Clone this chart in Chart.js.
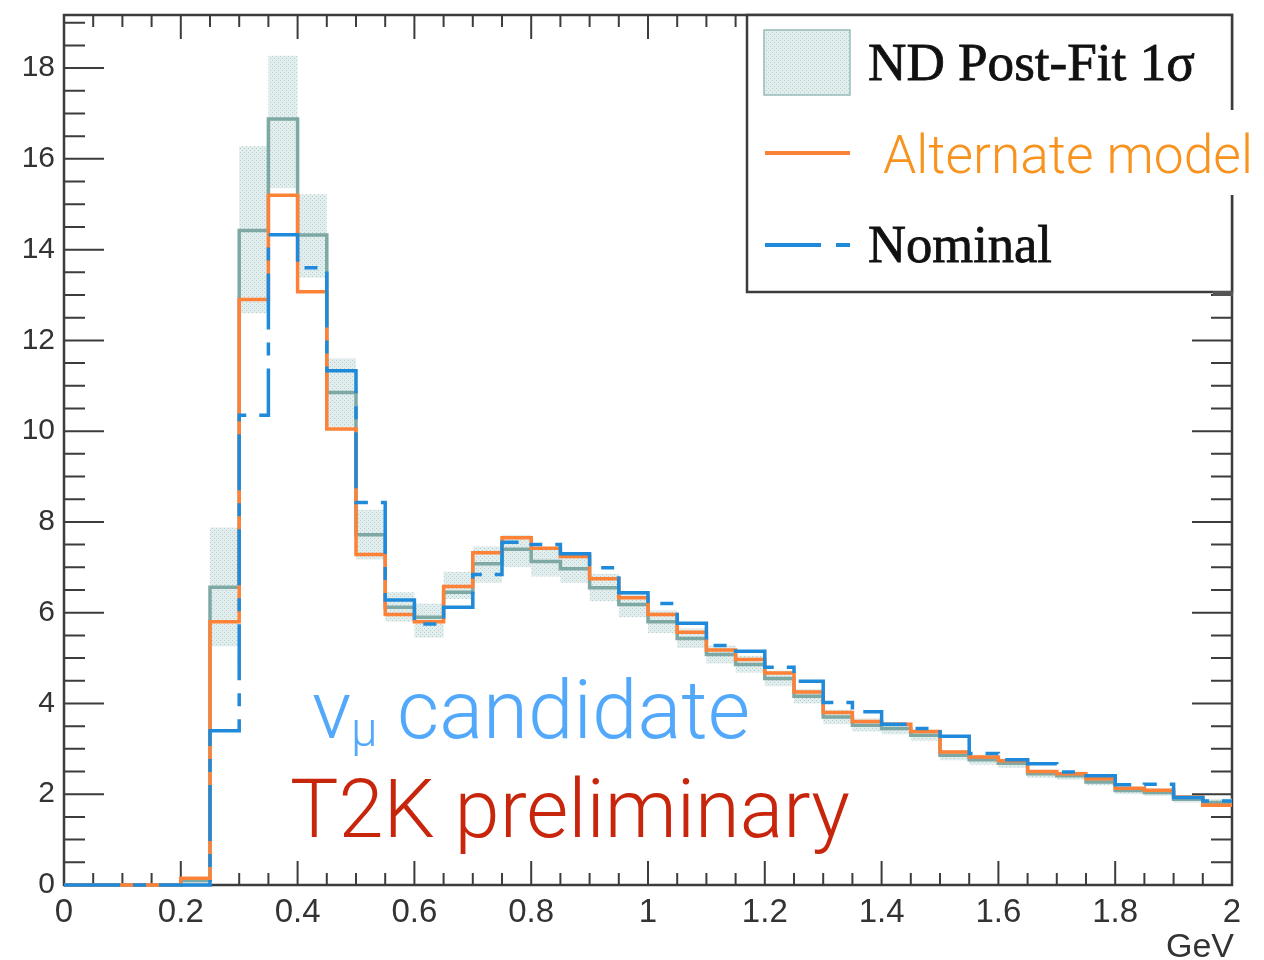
<!DOCTYPE html>
<html>
<head>
<meta charset="utf-8">
<script src="https://cdn.jsdelivr.net/npm/chart.js@4.4.1/dist/chart.umd.min.js"></script>
<style>
  html, body { margin: 0; padding: 0; background: #fff; }
  canvas { display: block; }
</style>
</head>
<body>
<canvas id="chart" width="1264" height="960"></canvas>
<script>
// low edge of each 0.05 GeV bin
const binEdges = [
  0.00, 0.05, 0.10, 0.15, 0.20, 0.25, 0.30, 0.35, 0.40, 0.45,
  0.50, 0.55, 0.60, 0.65, 0.70, 0.75, 0.80, 0.85, 0.90, 0.95,
  1.00, 1.05, 1.10, 1.15, 1.20, 1.25, 1.30, 1.35, 1.40, 1.45,
  1.50, 1.55, 1.60, 1.65, 1.70, 1.75, 1.80, 1.85, 1.90, 1.95
];
const binWidth = 0.05;

const alternateModel = [
  0, 0, 0, 0, 0.15, 5.80, 12.90, 15.20, 13.07, 10.05,
  7.28, 5.96, 5.80, 6.58, 7.32, 7.65, 7.42, 7.24, 6.75, 6.33,
  5.96, 5.57, 5.18, 4.97, 4.67, 4.25, 3.80, 3.60, 3.54, 3.38,
  2.93, 2.82, 2.74, 2.50, 2.45, 2.34, 2.13, 2.09, 1.94, 1.76
];
const nominal = [
  0, 0, 0, 0, 0, 3.40, 10.35, 14.33, 13.60, 11.33,
  8.43, 6.28, 5.75, 6.12, 6.84, 7.55, 7.50, 7.30, 6.99, 6.44,
  6.20, 5.77, 5.28, 5.15, 4.80, 4.49, 4.02, 3.82, 3.54, 3.45,
  3.28, 2.90, 2.76, 2.67, 2.49, 2.41, 2.21, 2.22, 1.93, 1.85
];
const postFit = [
  0, 0, 0, 0, 0.10, 6.56, 14.42, 16.88, 14.32, 10.85,
  7.72, 6.12, 5.90, 6.45, 7.08, 7.40, 7.13, 6.97, 6.55, 6.18,
  5.80, 5.43, 5.08, 4.86, 4.55, 4.16, 3.70, 3.52, 3.45, 3.30,
  2.86, 2.76, 2.68, 2.45, 2.41, 2.27, 2.08, 2.04, 1.89, 1.82
];
const postFitHigh = [
  0, 0, 0, 0, 0.15, 7.88, 16.28, 18.27, 15.22, 11.60,
  8.27, 6.45, 6.20, 6.90, 7.46, 7.72, 7.45, 7.30, 6.85, 6.45,
  6.05, 5.65, 5.28, 5.05, 4.72, 4.32, 3.86, 3.67, 3.58, 3.42,
  2.97, 2.87, 2.78, 2.54, 2.50, 2.35, 2.16, 2.12, 1.96, 1.90
];
const postFitLow = [
  0, 0, 0, 0, 0.05, 5.26, 12.60, 15.35, 13.38, 10.10,
  7.17, 5.80, 5.45, 6.30, 6.66, 7.00, 6.80, 6.66, 6.25, 5.90,
  5.55, 5.22, 4.88, 4.68, 4.38, 4.00, 3.54, 3.38, 3.32, 3.18,
  2.75, 2.65, 2.58, 2.36, 2.32, 2.19, 2.00, 1.96, 1.82, 1.74
];

const xMajorTicks = [0, 0.2, 0.4, 0.6, 0.8, 1, 1.2, 1.4, 1.6, 1.8, 2];
const yMajorTicks = [0, 2, 4, 6, 8, 10, 12, 14, 16, 18];

const BLUE = '#1f8ad9';
const ORANGE = '#fd8136';
const TEAL = '#7ea8a4';

// histogram -> step points (one per low edge, plus the last high edge)
function toSteps(values) {
  const pts = values.map((v, i) => ({ x: binEdges[i], y: v }));
  const last = binEdges.length - 1;
  pts.push({ x: binEdges[last] + binWidth, y: values[last] });
  return pts;
}

function isMajor(value, list) {
  return list.some(m => Math.abs(m - value) < 1e-6);
}

function makeBandPattern(ctx) {
  const c = document.createElement('canvas');
  c.width = 4; c.height = 4;
  const g = c.getContext('2d');
  g.fillStyle = '#e2eded';
  g.fillRect(0, 0, 4, 4);
  g.fillStyle = '#b7d0cf';
  g.fillRect(0, 0, 1, 1);
  g.fillRect(2, 2, 1, 1);
  return ctx.createPattern(c, 'repeat');
}

// font size so that text spans the given width
function fitSize(ctx, text, weight, family, width) {
  ctx.font = `${weight} 100px ${family}`;
  return 100 * width / ctx.measureText(text).width;
}

const frameAndTicks = {
  id: 'frameAndTicks',
  beforeDatasetsDraw(chart) {
    const { ctx, chartArea: a, scales: { x, y } } = chart;
    ctx.save();
    ctx.strokeStyle = '#3c3c3c';
    ctx.lineWidth = 2;
    ctx.beginPath();
    x.ticks.forEach(t => {
      const px = x.getPixelForValue(t.value);
      const len = isMajor(t.value, xMajorTicks) ? 24 : 12;
      ctx.moveTo(px, a.bottom); ctx.lineTo(px, a.bottom - len);
      ctx.moveTo(px, a.top); ctx.lineTo(px, a.top + len);
    });
    y.ticks.forEach(t => {
      const py = y.getPixelForValue(t.value);
      const len = isMajor(t.value, yMajorTicks) ? 40 : 21;
      ctx.moveTo(a.left, py); ctx.lineTo(a.left + len, py);
      ctx.moveTo(a.right, py); ctx.lineTo(a.right - len, py);
    });
    ctx.stroke();
    ctx.lineWidth = 2.5;
    ctx.strokeRect(a.left, a.top, a.width, a.height);
    ctx.restore();
  }
};

const annotations = {
  id: 'annotations',
  afterDraw(chart) {
    const ctx = chart.ctx;
    const light = '"Roboto", "Liberation Sans", sans-serif';
    const serif = '"Liberation Serif", "DejaVu Serif", serif';
    ctx.save();

    // legend box
    ctx.fillStyle = '#fff';
    ctx.fillRect(747, 15, 485, 277);
    ctx.strokeStyle = '#3c3c3c';
    ctx.lineWidth = 2.5;
    ctx.strokeRect(747, 15, 485, 277);
    ctx.fillStyle = '#555';
    ctx.fillRect(1213, 291, 20, 5);

    // band swatch
    ctx.fillStyle = makeBandPattern(ctx);
    ctx.fillRect(764, 30, 86, 65);
    ctx.strokeStyle = '#96bbb8';
    ctx.lineWidth = 1.5;
    ctx.strokeRect(764, 30, 86, 65);

    // orange line
    ctx.strokeStyle = ORANGE;
    ctx.lineWidth = 4;
    ctx.beginPath(); ctx.moveTo(765, 153); ctx.lineTo(850, 153); ctx.stroke();

    // blue dashed line
    ctx.strokeStyle = BLUE;
    ctx.beginPath();
    ctx.moveTo(765, 245); ctx.lineTo(821, 245);
    ctx.moveTo(836, 245); ctx.lineTo(850, 245);
    ctx.stroke();

    ctx.fillStyle = '#111';
    ctx.strokeStyle = '#111';
    ctx.lineWidth = 0.8;
    ctx.textBaseline = 'alphabetic';
    ctx.textAlign = 'left';
    let s = fitSize(ctx, 'ND Post-Fit 1\u03c3', 'normal', serif, 327);
    ctx.font = `normal ${s}px ${serif}`;
    ctx.fillText('ND Post-Fit 1\u03c3', 868, 80);
    ctx.strokeText('ND Post-Fit 1\u03c3', 868, 80);
    s = fitSize(ctx, 'Nominal', 'normal', serif, 184);
    ctx.font = `normal ${s}px ${serif}`;
    ctx.fillText('Nominal', 868, 262);
    ctx.strokeText('Nominal', 868, 262);

    // white patch behind "Alternate model"
    ctx.fillStyle = '#fff';
    ctx.fillRect(867, 110, 397, 85);
    ctx.fillStyle = '#f7931e';
    s = fitSize(ctx, 'Alternate model', 300, light, 370);
    ctx.font = `300 ${s}px ${light}`;
    ctx.fillText('Alternate model', 883, 173);

    // nu_mu candidate
    ctx.fillStyle = '#52a8fb';
    s = fitSize(ctx, 'candidate', 300, light, 353);
    ctx.font = `300 ${s}px ${light}`;
    ctx.fillText('\u03bd', 312, 738);
    ctx.fillText('candidate', 397, 738);
    ctx.font = `300 ${s * 0.58}px ${light}`;
    ctx.fillText('\u03bc', 351, 746);

    // T2K preliminary
    ctx.fillStyle = '#c8260c';
    s = fitSize(ctx, 'T2K preliminary', 300, light, 560);
    ctx.font = `300 ${s}px ${light}`;
    ctx.fillText('T2K preliminary', 290, 837);

    // axis unit
    ctx.fillStyle = '#333';
    ctx.font = '34px "Liberation Sans", Arial, sans-serif';
    ctx.textAlign = 'right';
    ctx.fillText('GeV', 1234, 957);

    ctx.restore();
  }
};

const ctx = document.getElementById('chart').getContext('2d');
const bandFill = makeBandPattern(ctx);

const lineBase = { stepped: true, pointRadius: 0, clip: false, fill: false };

new Chart(ctx, {
  type: 'line',
  data: {
    datasets: [
      { ...lineBase, label: 'Nominal', data: toSteps(nominal),
        borderColor: BLUE, borderWidth: 3.5, borderDash: [56, 13, 13, 13] },
      { ...lineBase, label: 'Alternate model', data: toSteps(alternateModel),
        borderColor: ORANGE, borderWidth: 3.5 },
      { ...lineBase, label: 'ND Post-Fit', data: toSteps(postFit),
        borderColor: TEAL, borderWidth: 3.5 },
      { ...lineBase, label: 'high', data: toSteps(postFitHigh),
        borderWidth: 0, borderColor: 'rgba(0,0,0,0)', fill: '+1', backgroundColor: bandFill },
      { ...lineBase, label: 'low', data: toSteps(postFitLow),
        borderWidth: 0, borderColor: 'rgba(0,0,0,0)' }
    ]
  },
  options: {
    responsive: false,
    animation: false,
    devicePixelRatio: 1,
    layout: { padding: { top: 15, right: 32, left: 0, bottom: 0 } },
    plugins: { legend: { display: false }, tooltip: { enabled: false } },
    scales: {
      x: {
        type: 'linear', min: 0, max: 2,
        grid: { display: false, drawTicks: false },
        border: { display: false },
        afterFit: s => { s.height = 75; },
        ticks: {
          stepSize: 0.05, autoSkip: false, maxRotation: 0, padding: 11,
          color: '#333',
          font: { family: '"Liberation Sans", Arial, sans-serif', size: 33, lineHeight: 1 },
          callback: v => isMajor(v, xMajorTicks) ? String(+v.toFixed(1)) : ''
        }
      },
      y: {
        type: 'linear', min: 0, max: 19.17,
        grid: { display: false, drawTicks: false },
        border: { display: false },
        afterFit: s => { s.width = 64; },
        ticks: {
          stepSize: 0.5, autoSkip: false, padding: 9, includeBounds: false,
          color: '#333',
          font: { family: '"Liberation Sans", Arial, sans-serif', size: 30, lineHeight: 0.3 },
          callback: v => isMajor(v, yMajorTicks) ? String(v) : ''
        }
      }
    }
  },
  plugins: [frameAndTicks, annotations]
});
</script>
</body>
</html>
